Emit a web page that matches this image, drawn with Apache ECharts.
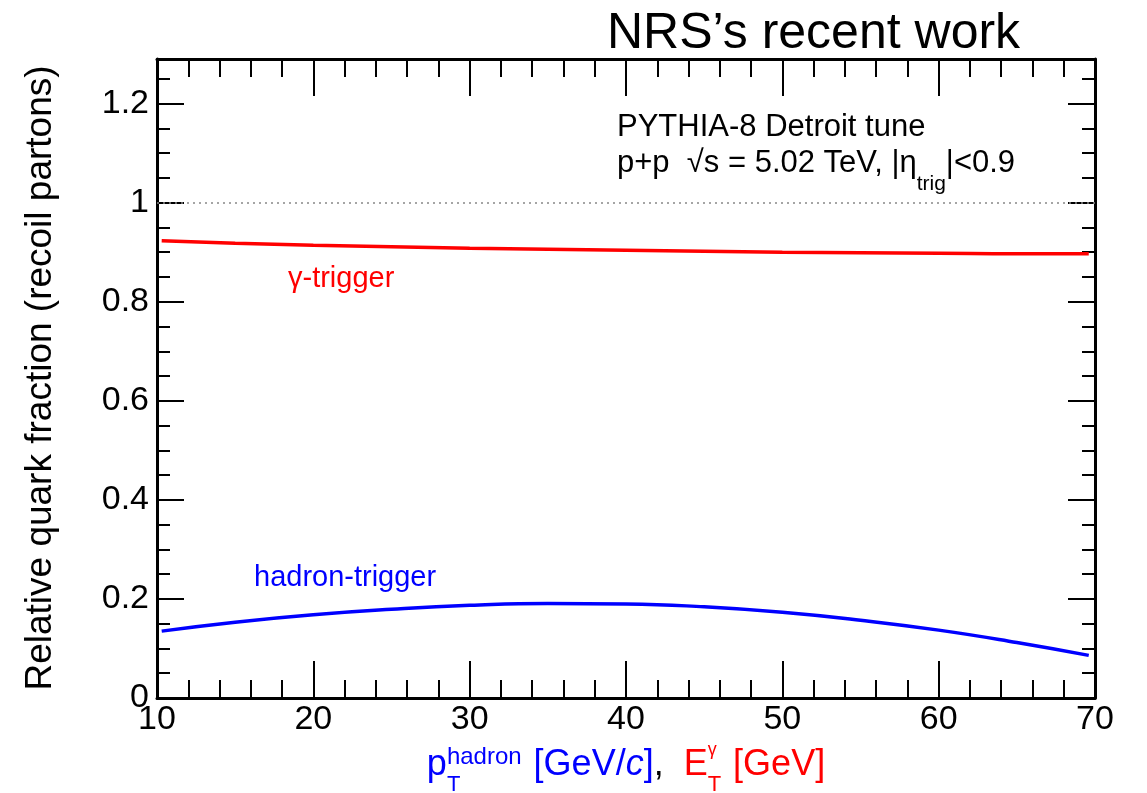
<!DOCTYPE html>
<html>
<head>
<meta charset="utf-8">
<script src="https://cdn.jsdelivr.net/npm/echarts@6/dist/echarts.min.js"></script>
<style>
  html, body { margin: 0; padding: 0; background: #fff; }
  #chart { width: 1147px; height: 793px; }
</style>
</head>
<body>
<div id="chart"></div>
<script>
// Transverse momentum / energy of the trigger (GeV)
const ptValues = [10.3, 15, 20, 25, 30, 35, 40, 45, 50, 55, 60, 65, 69.6];
// Relative quark fraction of recoil partons, photon trigger
const gammaFraction = [0.923, 0.918, 0.914, 0.911, 0.908, 0.906, 0.904, 0.902, 0.900, 0.899, 0.898, 0.897, 0.897];
// Relative quark fraction of recoil partons, hadron trigger
const hadronFraction = [0.135, 0.153, 0.168, 0.179, 0.187, 0.191, 0.190, 0.184, 0.173, 0.157, 0.137, 0.112, 0.086];
// Axis ranges and ticks
const xRange = [10, 70];
const xStep = 10;
const yRange = [0, 1.29];
const yStep = 0.2;
const yMinorStep = 0.05;
const referenceLevel = 1;

const FONT = '"Liberation Sans", Arial, Helvetica, sans-serif';
const RED = '#ff0000';
const BLUE = '#0000ff';
const BLACK = '#000000';

const chart = echarts.init(document.getElementById('chart'), null, { renderer: 'canvas' });

const measureCtx = document.createElement('canvas').getContext('2d');
function textWidth(str, size, style) {
  measureCtx.font = (style ? style + ' ' : '') + size + 'px ' + FONT;
  return measureCtx.measureText(str).width;
}

// Lay out a run of text pieces left to right; pieces may carry a
// superscript/subscript pair stacked at the same position.
function placeRuns(runs, startX, graphics) {
  let x = startX;
  runs.forEach(r => {
    if (r.t !== undefined) {
      graphics.push({
        type: 'text', x: x, y: r.y, silent: true,
        style: { text: r.t, fill: r.color, font: (r.style ? r.style + ' ' : '') + r.size + 'px ' + FONT,
                 textAlign: 'left', verticalAlign: 'middle', textVerticalAlign: 'middle' }
      });
      x += textWidth(r.t, r.size, r.style);
    } else {
      let w = 0;
      if (r.sup) {
        graphics.push({
          type: 'text', x: x, y: r.supY, silent: true,
          style: { text: r.sup, fill: r.color, font: r.supSize + 'px ' + FONT, textAlign: 'left', verticalAlign: 'middle', textVerticalAlign: 'middle' }
        });
        w = Math.max(w, textWidth(r.sup, r.supSize));
      }
      if (r.sub) {
        graphics.push({
          type: 'text', x: x, y: r.subY, silent: true,
          style: { text: r.sub, fill: r.color, font: r.subSize + 'px ' + FONT, textAlign: 'left', verticalAlign: 'middle', textVerticalAlign: 'middle' }
        });
        w = Math.max(w, textWidth(r.sub, r.subSize));
      }
      x += w + (r.gap || 0);
    }
  });
  return x;
}
function runsWidth(runs) {
  let w = 0;
  runs.forEach(r => {
    if (r.t !== undefined) w += textWidth(r.t, r.size, r.style);
    else w += Math.max(r.sup ? textWidth(r.sup, r.supSize) : 0, r.sub ? textWidth(r.sub, r.subSize) : 0) + (r.gap || 0);
  });
  return w;
}

const graphics = [];

// Heading
graphics.push({
  type: 'text', x: 607, y: 34, silent: true,
  style: { text: 'NRS\u2019s recent work', fill: BLACK, font: '50px ' + FONT, textAlign: 'left', verticalAlign: 'middle', textVerticalAlign: 'middle' }
});

// Y axis title
graphics.push({
  type: 'text', x: 41, y: 378, rotation: Math.PI / 2, silent: true,
  style: { text: 'Relative quark fraction (recoil partons)', fill: BLACK, font: '37px ' + FONT, textAlign: 'center', verticalAlign: 'middle', textVerticalAlign: 'middle' }
});

// X axis title
const xTitleRuns = [
  { t: 'p', size: 36, color: BLUE, y: 765 },
  { sup: 'hadron', supSize: 24, supY: 757, sub: 'T', subSize: 22, subY: 785, color: BLUE, gap: 2 },
  { t: ' [GeV/', size: 36, color: BLUE, y: 765 },
  { t: 'c', size: 36, color: BLUE, y: 765, style: 'italic' },
  { t: ']', size: 36, color: BLUE, y: 765 },
  { t: ',  ', size: 36, color: BLACK, y: 765 },
  { t: 'E', size: 36, color: RED, y: 765 },
  { sup: '\u03b3', supSize: 18, supY: 750, sub: 'T', subSize: 22, subY: 785, color: RED, gap: 2 },
  { t: ' [GeV]', size: 36, color: RED, y: 765 }
];
placeRuns(xTitleRuns, 626 - runsWidth(xTitleRuns) / 2, graphics);

// Annotation
graphics.push({
  type: 'text', x: 617, y: 127, silent: true,
  style: { text: 'PYTHIA-8 Detroit tune', fill: BLACK, font: '31px ' + FONT, textAlign: 'left', verticalAlign: 'middle', textVerticalAlign: 'middle' }
});
placeRuns([
  { t: 'p+p  \u221as = 5.02 TeV, |\u03b7', size: 31, color: BLACK, y: 163 },
  { sub: 'trig', subSize: 21, subY: 184, color: BLACK },
  { t: '|<0.9', size: 31, color: BLACK, y: 163 }
], 617, graphics);

// Curve labels
graphics.push({
  type: 'text', x: 288, y: 279, silent: true,
  style: { text: '\u03b3-trigger', fill: RED, font: '29px ' + FONT, textAlign: 'left', verticalAlign: 'middle', textVerticalAlign: 'middle' }
});
graphics.push({
  type: 'text', x: 254, y: 578, silent: true,
  style: { text: 'hadron-trigger', fill: BLUE, font: '29px ' + FONT, textAlign: 'left', verticalAlign: 'middle', textVerticalAlign: 'middle' }
});

const frameLine = { show: true, onZero: false, lineStyle: { color: BLACK, width: 3 } };
const noLine = { show: false, onZero: false };
const noLabel = { show: false };

function xAxisDef(position, withLabels) {
  return {
    type: 'value', position: position, min: xRange[0], max: xRange[1], interval: xStep,
    axisLine: frameLine,
    axisTick: { show: true, inside: true, length: 37, lineStyle: { color: BLACK, width: 2 } },
    minorTick: { show: true, splitNumber: 5, length: 18, lineStyle: { color: BLACK, width: 2 } },
    splitLine: { show: false }, minorSplitLine: { show: false },
    axisLabel: withLabels ? { show: true, margin: 5, fontSize: 34, fontFamily: FONT, color: BLACK } : noLabel
  };
}
function yMajorDef(position, withLabels) {
  return {
    type: 'value', position: position, min: yRange[0], max: yRange[1], interval: yStep,
    axisLine: frameLine,
    axisTick: { show: true, inside: true, length: 27, lineStyle: { color: BLACK, width: 2 } },
    splitLine: { show: false },
    axisLabel: withLabels ? { show: true, margin: 8, fontSize: 34, fontFamily: FONT, color: BLACK, showMaxLabel: false,
      formatter: v => (Math.abs(v - Math.round(v / yStep) * yStep) < 1e-6 ? String(+v.toFixed(1)) : '') } : noLabel
  };
}
function yMinorDef(position) {
  return {
    type: 'value', position: position, min: yRange[0], max: yRange[1], interval: yMinorStep,
    axisLine: noLine,
    axisTick: { show: true, inside: true, length: 13, lineStyle: { color: BLACK, width: 2 } },
    splitLine: { show: false },
    axisLabel: noLabel
  };
}

const option = {
  animation: false,
  backgroundColor: '#ffffff',
  grid: { left: 157, right: 52, top: 59, bottom: 95, containLabel: false },
  xAxis: [xAxisDef('bottom', true), xAxisDef('top', false)],
  yAxis: [yMajorDef('left', true), yMinorDef('left'), yMajorDef('right', false), yMinorDef('right')],
  series: [
    {
      name: '\u03b3-trigger', type: 'line', xAxisIndex: 0, yAxisIndex: 0,
      data: ptValues.map((x, i) => [x, gammaFraction[i]]),
      smooth: 0.5, showSymbol: false, lineStyle: { color: RED, width: 3.5 },
      markLine: {
        silent: true, symbol: 'none', label: { show: false },
        lineStyle: { color: '#888888', width: 1.5, type: [2, 4] },
        data: [{ yAxis: referenceLevel }]
      }
    },
    {
      name: 'hadron-trigger', type: 'line', xAxisIndex: 0, yAxisIndex: 0,
      data: ptValues.map((x, i) => [x, hadronFraction[i]]),
      smooth: 0.5, showSymbol: false, lineStyle: { color: BLUE, width: 3.5 }
    }
  ],
  graphic: graphics
};

chart.setOption(option);
</script>
</body>
</html>
